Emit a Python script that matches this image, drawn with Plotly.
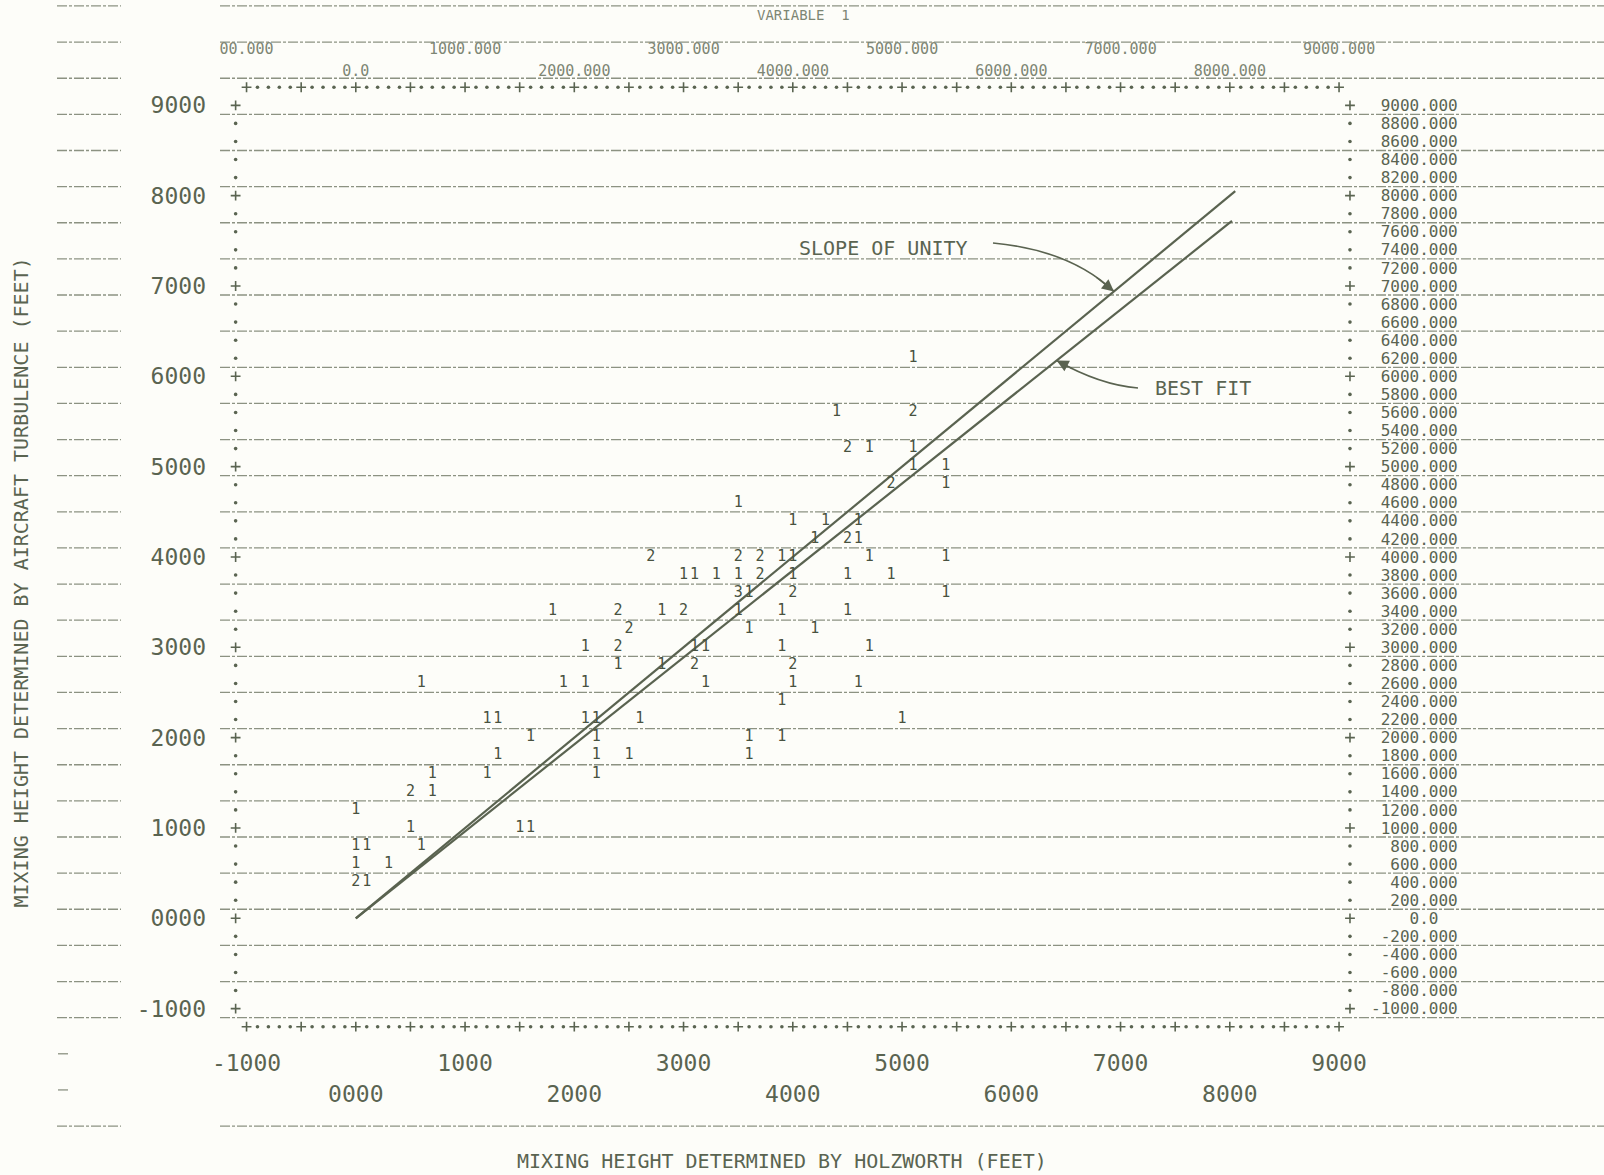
import plotly.graph_objects as go

# ---------------- data ----------------
holz_x = [5100,
          4400, 5100,
          4500, 4700, 5100,
          5100, 5400,
          4900, 5400,
          3500,
          4000, 4300, 4600,
          4200, 4500, 4600,
          2700, 3500, 3700, 3900, 4000, 4700, 5400,
          3000, 3100, 3300, 3500, 3700, 4000, 4500, 4900,
          3500, 3600, 4000, 5400,
          1800, 2400, 2800, 3000, 3500, 3900, 4500,
          2500, 3600, 4200,
          2100, 2400, 3100, 3200, 3900, 4700,
          2400, 2800, 3100, 4000,
          600, 1900, 2100, 3200, 4000, 4600,
          3900,
          1200, 1300, 2100, 2200, 2600, 5000,
          1600, 2200, 3600, 3900,
          1300, 2200, 2500, 3600,
          700, 1200, 2200,
          500, 700,
          0,
          500, 1500, 1600,
          0, 100, 600,
          0, 300,
          0, 100]
aircraft_y = [6200,
              5600, 5600,
              5200, 5200, 5200,
              5000, 5000,
              4800, 4800,
              4600,
              4400, 4400, 4400,
              4200, 4200, 4200,
              4000, 4000, 4000, 4000, 4000, 4000, 4000,
              3800, 3800, 3800, 3800, 3800, 3800, 3800, 3800,
              3600, 3600, 3600, 3600,
              3400, 3400, 3400, 3400, 3400, 3400, 3400,
              3200, 3200, 3200,
              3000, 3000, 3000, 3000, 3000, 3000,
              2800, 2800, 2800, 2800,
              2600, 2600, 2600, 2600, 2600, 2600,
              2400,
              2200, 2200, 2200, 2200, 2200, 2200,
              2000, 2000, 2000, 2000,
              1800, 1800, 1800, 1800,
              1600, 1600, 1600,
              1400, 1400,
              1200,
              1000, 1000, 1000,
              800, 800, 800,
              600, 600,
              400, 400]
counts = [1,
          1, 2,
          2, 1, 1,
          1, 1,
          2, 1,
          1,
          1, 1, 1,
          1, 2, 1,
          2, 2, 2, 1, 1, 1, 1,
          1, 1, 1, 1, 2, 1, 1, 1,
          3, 1, 2, 1,
          1, 2, 1, 2, 1, 1, 1,
          2, 1, 1,
          1, 2, 1, 1, 1, 1,
          1, 1, 2, 2,
          1, 1, 1, 1, 1, 1,
          1,
          1, 1, 1, 1, 1, 1,
          1, 1, 1, 1,
          1, 1, 1, 1,
          1, 1, 1,
          2, 1,
          1,
          1, 1, 1,
          1, 1, 1,
          1, 1,
          2, 1]

unity_x = [0, 8050]
unity_y = [0, 8050]
fit_x = [0, 8020]
fit_y = [0, 7720]

# tick labels
left_tick_vals = [9000, 8000, 7000, 6000, 5000, 4000, 3000, 2000, 1000, 0, -1000]
left_tick_text = ["9000", "8000", "7000", "6000", "5000", "4000", "3000", "2000", "1000", "0000", "-1000"]
bottom1_vals = [-1000, 1000, 3000, 5000, 7000, 9000]
bottom1_text = ["-1000", "1000", "3000", "5000", "7000", "9000"]
bottom2_vals = [0, 2000, 4000, 6000, 8000]
bottom2_text = ["0000", "2000", "4000", "6000", "8000"]
top1_vals = [-1000, 1000, 3000, 5000, 7000, 9000]
top1_text = ["00.000", "1000.000", "3000.000", "5000.000", "7000.000", "9000.000"]
top2_vals = [0, 2000, 4000, 6000, 8000]
top2_text = ["0.0", "2000.000", "4000.000", "6000.000", "8000.000"]
right_tick_vals = list(range(9000, -1001, -200))

# ---------------- page calibration ----------------
OFF = 0                      # body margin is removed by the post script
W, H = 1604, 1175
SX, SY = 0.10925, 0.09033    # px per data unit
X0 = 355.8 - OFF             # figure pixel of x = 0
Y0 = 918.3 - OFF             # figure pixel (from top) of y = 0
XR = [-X0 / SX, (W - X0) / SX]
YR = [-(H - Y0) / SY, Y0 / SY]


def px_x(p):      # page pixel -> data x
    return (p - OFF - X0) / SX


def px_y(p):      # page pixel -> data y
    return (Y0 - (p - OFF)) / SY


def pap_x(p):     # page pixel -> paper x
    return (p - OFF) / W


def pap_y(p):     # page pixel -> paper y
    return 1 - (p - OFF) / H


INK = "#485240"
LABEL = "#5a6451"
FAINT = "#7d8674"
PAPER_LINE = "#8c9282"
BG = "#fdfdf9"
MONO = "DejaVu Sans Mono"


def right_label(v):
    s = "0.0" if v == 0 else f"{v:.3f}"
    dot = s.index(".")
    return "\u00a0" * (5 - dot) + s


right_tick_text = [right_label(v) for v in right_tick_vals]

fig = go.Figure()

# continuous-form paper lines
lx, ly = [], []
full_rows = [10100 - 400 * k for k in range(0, 31) if 10100 - 400 * k >= -1100] + [-2300]
for yv in full_rows:
    lx += [px_x(57), px_x(121), None, px_x(220), XR[1], None]
    ly += [yv, yv, None, yv, yv, None]
for yv in [-1500, -1900]:
    lx += [px_x(58), px_x(68), None]
    ly += [yv, yv, None]
fig.add_trace(go.Scatter(x=lx, y=ly, mode="lines", hoverinfo="skip",
                         line=dict(color=PAPER_LINE, width=1.3, dash="10px,2px,3px,2px"),
                         showlegend=False))

# printer frame: dots and plus signs
dot_x, dot_y, plus_x, plus_y = [], [], [], []
for xv in range(-1000, 9001, 100):
    for yv in (9200, -1200):
        if xv % 500 == 0:
            plus_x.append(xv); plus_y.append(yv)
        else:
            dot_x.append(xv); dot_y.append(yv)
for yv in range(-1000, 9001, 200):
    for xv in (-1100, 9100):
        if yv % 1000 == 0:
            plus_x.append(xv); plus_y.append(yv)
        else:
            dot_x.append(xv); dot_y.append(yv)
fig.add_trace(go.Scatter(x=dot_x, y=dot_y, mode="markers", hoverinfo="skip", showlegend=False,
                         marker=dict(symbol="circle", size=3.6, color=LABEL)))
fig.add_trace(go.Scatter(x=plus_x, y=plus_y, mode="markers", hoverinfo="skip", showlegend=False,
                         marker=dict(symbol="cross-thin", size=7, line=dict(width=1.6, color=LABEL))))

# fitted lines
fig.add_trace(go.Scatter(x=unity_x, y=unity_y, mode="lines", showlegend=False,
                         line=dict(color="#5a6350", width=2.2)))
fig.add_trace(go.Scatter(x=fit_x, y=fit_y, mode="lines", showlegend=False,
                         line=dict(color="#5a6350", width=2.2)))

# scatter counts
fig.add_trace(go.Scatter(x=holz_x, y=aircraft_y, mode="text", text=[str(c) for c in counts],
                         textposition="middle center", showlegend=False,
                         textfont=dict(family=MONO, size=15, color=INK)))


# curved callout arrows
def bez(p0, c, p1, t):
    return ((1 - t) ** 2 * p0[0] + 2 * (1 - t) * t * c[0] + t ** 2 * p1[0],
            (1 - t) ** 2 * p0[1] + 2 * (1 - t) * t * c[1] + t ** 2 * p1[1])


unity_tip = (6940, 6940 * unity_y[1] / unity_x[1])
fit_tip = (6415, 6415 * fit_y[1] / fit_x[1])
callouts = [
    ((px_x(993), px_y(243)), (px_x(1070), px_y(250)), unity_tip),
    ((px_x(1138), px_y(388)), (px_x(1100), px_y(385)), fit_tip),
]
for p0, c, p1 in callouts:
    fig.add_shape(type="path", xref="x", yref="y",
                  path=f"M {p0[0]},{p0[1]} Q {c[0]},{c[1]} {p1[0]},{p1[1]}",
                  line=dict(color="#5a6350", width=1.6))
    tail = bez(p0, c, p1, 0.8)
    fig.add_annotation(x=p1[0], y=p1[1], ax=tail[0], ay=tail[1], xref="x", yref="y",
                       axref="x", ayref="y", text="", showarrow=True, arrowhead=2,
                       arrowsize=1.7, arrowwidth=1.4, arrowcolor="#5a6350", standoff=0)

fig.add_annotation(x=px_x(883.5), y=px_y(248), xref="x", yref="y", text="SLOPE OF UNITY",
                   showarrow=False, xanchor="center", yanchor="middle",
                   font=dict(family=MONO, size=20, color=LABEL))
fig.add_annotation(x=px_x(1202.5), y=px_y(388), xref="x", yref="y", text="BEST FIT",
                   showarrow=False, xanchor="center", yanchor="middle",
                   font=dict(family=MONO, size=20, color=LABEL))

# titles
fig.add_annotation(x=pap_x(20.5), y=pap_y(583), xref="paper", yref="paper", textangle=-90,
                   text="MIXING HEIGHT DETERMINED BY AIRCRAFT TURBULENCE (FEET)", showarrow=False,
                   xanchor="center", yanchor="middle",
                   font=dict(family=MONO, size=20, color=LABEL))
fig.add_annotation(x=pap_x(781.6), y=pap_y(1161), xref="paper", yref="paper",
                   text="MIXING HEIGHT DETERMINED BY HOLZWORTH (FEET)", showarrow=False,
                   xanchor="center", yanchor="middle",
                   font=dict(family=MONO, size=20, color=LABEL))
fig.add_annotation(x=pap_x(803), y=pap_y(15), xref="paper", yref="paper",
                   text="VARIABLE  1", showarrow=False, xanchor="center", yanchor="middle",
                   font=dict(family=MONO, size=14, color=FAINT))

common = dict(showgrid=False, zeroline=False, showline=False, ticks="", automargin=False,
              fixedrange=True)
fig.update_layout(
    width=W, height=H, template="none",
    margin=dict(l=0, r=0, t=0, b=0, pad=0),
    paper_bgcolor=BG, plot_bgcolor=BG,
    showlegend=False, hovermode=False,
    xaxis=dict(range=XR, domain=[0, 1], anchor="free", position=pap_y(1047), side="bottom",
               tickmode="array", tickvals=bottom1_vals, ticktext=bottom1_text,
               tickfont=dict(family=MONO, size=23, color=LABEL), **common),
    xaxis2=dict(range=XR, matches="x", overlaying="x", anchor="free", position=pap_y(1078),
                side="bottom", tickmode="array", tickvals=bottom2_vals, ticktext=bottom2_text,
                tickfont=dict(family=MONO, size=23, color=LABEL), **common),
    xaxis3=dict(range=XR, matches="x", overlaying="x", anchor="free", position=pap_y(57),
                side="top", tickmode="array", tickvals=top1_vals, ticktext=top1_text,
                tickfont=dict(family=MONO, size=15, color=FAINT), **common),
    xaxis4=dict(range=XR, matches="x", overlaying="x", anchor="free", position=pap_y(79),
                side="top", tickmode="array", tickvals=top2_vals, ticktext=top2_text,
                tickfont=dict(family=MONO, size=15, color=FAINT), **common),
    yaxis=dict(range=YR, domain=[0, 1], anchor="free", position=pap_x(206), side="left",
               tickmode="array", tickvals=left_tick_vals, ticktext=left_tick_text,
               tickfont=dict(family=MONO, size=23, color=LABEL), **common),
    yaxis2=dict(range=YR, matches="y", overlaying="y", anchor="free", position=pap_x(1370),
                side="right", tickmode="array", tickvals=right_tick_vals,
                ticktext=right_tick_text,
                tickfont=dict(family=MONO, size=16, color=LABEL), **common),
)

# dummy traces so the overlay axes are drawn
fig.add_trace(go.Scatter(x=[None], y=[None], xaxis="x2", yaxis="y2", showlegend=False))
fig.add_trace(go.Scatter(x=[None], y=[None], xaxis="x3", yaxis="y", showlegend=False))
fig.add_trace(go.Scatter(x=[None], y=[None], xaxis="x4", yaxis="y", showlegend=False))

fig.write_html(
    "out.html",
    config={"displayModeBar": False, "staticPlot": True},
    post_script="document.body.style.margin='0';document.body.style.overflow='hidden';",
)
